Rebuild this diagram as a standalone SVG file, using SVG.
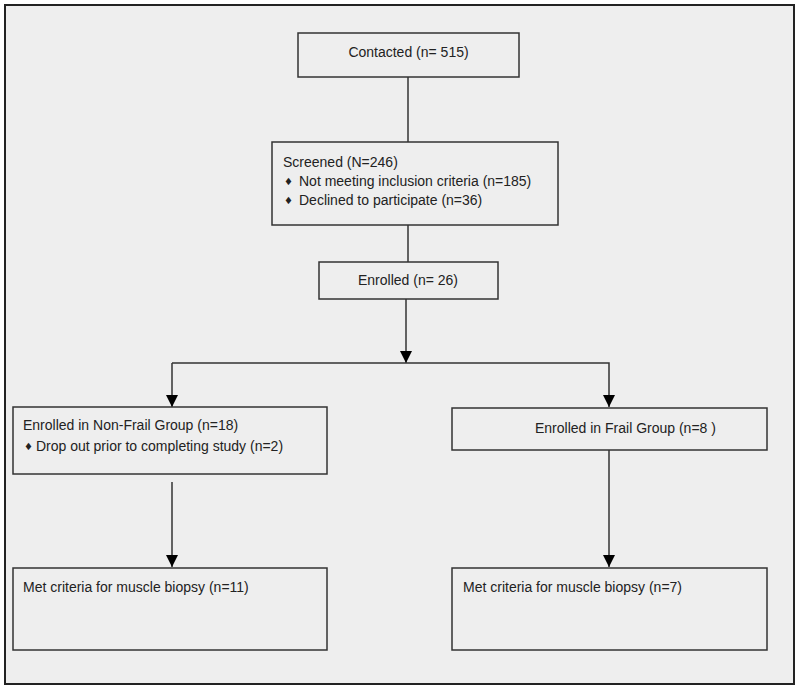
<svg xmlns="http://www.w3.org/2000/svg" width="800" height="690" viewBox="0 0 800 690">
<defs>
<style>
.box{fill:#eeeeee;stroke:#333333;stroke-width:1.5}
.t{font-family:"Liberation Sans",Arial,sans-serif;font-size:14px;fill:#222222}
.b{font-family:"DejaVu Sans",sans-serif;font-size:10px;fill:#222222}
.c{fill:none;stroke:#333333;stroke-width:1.5}
</style>
<marker id="ah" viewBox="0 0 12 12" refX="12" refY="6" markerWidth="12" markerHeight="12" markerUnits="userSpaceOnUse" orient="auto">
<path d="M0,0 L12,6 L0,12 Z" fill="#000000"/>
</marker>
</defs>
<rect x="0" y="0" width="800" height="690" fill="#ffffff"/>
<rect x="5" y="5" width="789" height="679" fill="#eeeeee" stroke="#222222" stroke-width="2"/>
<g id="connectors">
<line class="c" x1="408" y1="77" x2="408" y2="142"/>
<line class="c" x1="408" y1="225" x2="408" y2="262"/>
<line class="c" x1="406" y1="299" x2="406" y2="363" marker-end="url(#ah)"/>
<polyline class="c" points="172,363 609,363 609,407" marker-end="url(#ah)"/>
<line class="c" x1="172" y1="363" x2="172" y2="407" marker-end="url(#ah)"/>
<line class="c" x1="172" y1="482" x2="172" y2="567" marker-end="url(#ah)"/>
<line class="c" x1="609" y1="450" x2="609" y2="567" marker-end="url(#ah)"/>
</g>
<g id="contacted">
<rect class="box" x="298" y="33" width="221" height="44"/>
<text class="t" x="408.5" y="57" text-anchor="middle">Contacted (n= 515)</text>
</g>
<g id="screened">
<rect class="box" x="272" y="142" width="286" height="83"/>
<text class="t" x="283" y="167">Screened (N=246)</text>
<text class="b" x="284" y="185">♦</text>
<text class="t" x="299" y="186">Not meeting inclusion criteria (n=185)</text>
<text class="b" x="284" y="204">♦</text>
<text class="t" x="299" y="205">Declined to participate (n=36)</text>
</g>
<g id="enrolled">
<rect class="box" x="319" y="262" width="179" height="37"/>
<text class="t" x="408" y="285" text-anchor="middle">Enrolled (n= 26)</text>
</g>
<g id="nonfrail">
<rect class="box" x="13" y="407" width="314" height="67"/>
<text class="t" x="23" y="430">Enrolled in Non-Frail Group (n=18)</text>
<text class="b" x="24" y="450">♦</text>
<text class="t" x="36" y="451">Drop out prior to completing study (n=2)</text>
</g>
<g id="frail">
<rect class="box" x="452" y="408" width="315" height="42"/>
<text class="t" x="535" y="433">Enrolled in Frail Group (n=8 )</text>
</g>
<g id="biopsy-nonfrail">
<rect class="box" x="13" y="568" width="314" height="82"/>
<text class="t" x="23" y="592">Met criteria for muscle biopsy (n=11)</text>
</g>
<g id="biopsy-frail">
<rect class="box" x="452" y="568" width="315" height="82"/>
<text class="t" x="463" y="592">Met criteria for muscle biopsy (n=7)</text>
</g>
</svg>
